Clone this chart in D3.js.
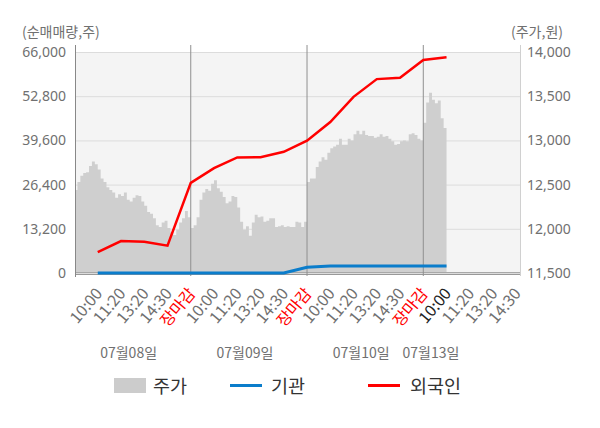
<!DOCTYPE html>
<html>
<head>
<meta charset="utf-8">
<script src="https://cdn.jsdelivr.net/npm/d3@7"></script>
<style>
body { margin: 0; background: #fff; }
svg { display: block; font-family: "Noto Sans CJK KR", "Noto Sans", sans-serif; }
</style>
</head>
<body>
<svg id="chart"></svg>
<script>
// x axis labels, one per slot
const tickLabels = ["10:00", "11:20", "13:20", "14:30", "장마감",
                    "10:00", "11:20", "13:20", "14:30", "장마감",
                    "10:00", "11:20", "13:20", "14:30", "장마감",
                    "10:00", "11:20", "13:20", "14:30"];
const dayLabels = ["07월08일", "07월09일", "07월10일", "07월13일"];

// net buying (shares), one value per slot up to now
const foreignNet = [6200, 9550, 9350, 8150, 26900, 31300, 34500, 34600, 36200, 39500,
                    45100, 52600, 57900, 58300, 63600, 64400];
const instNet = [0, 0, 0, 0, 0, 0, 0, 0, 0, 1700, 2100, 2100, 2100, 2100, 2100, 2100];

// price (won), evenly spaced through each session
const priceDay1 = [12440, 12530, 12600, 12630, 12640, 12710, 12760, 12730, 12670, 12570,
                   12530, 12470, 12440, 12410, 12350, 12390, 12370, 12410, 12330, 12310,
                   12350, 12380, 12370, 12310, 12260, 12190, 12170, 12120, 12040, 12020,
                   12070, 12090, 12010, 11960, 11930, 11990, 12070, 12120, 12200, 12130];
const priceDay2 = [12010, 12040, 12130, 12330, 12410, 12450, 12430, 12510, 12550, 12460,
                   12420, 12360, 12290, 12310, 12370, 12360, 12240, 12080, 11990, 12030,
                   11920, 12070, 12160, 12130, 12140, 12080, 12090, 12120, 12120, 12020,
                   12030, 12040, 12020, 12030, 12020, 12020, 12080, 12070, 12020, 12080];
const priceDay3 = [12530, 12570, 12570, 12700, 12760, 12810, 12780, 12860, 12910, 12930,
                   12950, 13020, 12950, 12950, 13020, 13000, 13070, 13110, 13070, 13110,
                   13060, 13050, 13050, 13030, 13040, 13070, 13040, 13050, 13020, 12990,
                   12950, 12960, 12990, 13000, 12990, 13070, 13080, 13060, 13020, 13000];
const priceDay4 = [13200, 13430, 13540, 13460, 13420, 13450, 13250, 13140];

const leftTicks = [0, 13200, 26400, 39600, 52800, 66000];
const rightTicks = [11500, 12000, 12500, 13000, 13500, 14000];

const width = 600, height = 428;
const plot = {left: 76, right: 520, top: 52, bottom: 273};
const slotsPerDay = 5, samplesPerDay = 40;
const labelGray = "#707070";

const svg = d3.select("#chart")
    .attr("width", width)
    .attr("height", height);

const xScale = d3.scaleLinear()
    .domain([0, tickLabels.length])
    .range([74.5, 516.3]);
const yLeft = d3.scaleLinear()
    .domain([leftTicks[0], leftTicks[leftTicks.length - 1]])
    .range([plot.bottom, plot.top]);
const yRight = d3.scaleLinear()
    .domain([rightTicks[0], rightTicks[rightTicks.length - 1]])
    .range([plot.bottom, plot.top]);

svg.append("defs").append("clipPath")
    .attr("id", "plotClip")
    .append("rect")
    .attr("x", plot.left)
    .attr("y", plot.top)
    .attr("width", plot.right - plot.left)
    .attr("height", plot.bottom - plot.top);

svg.append("rect")
    .attr("x", plot.left)
    .attr("y", plot.top)
    .attr("width", plot.right - plot.left)
    .attr("height", plot.bottom - plot.top)
    .attr("fill", "#f4f4f4");

// horizontal grid
let grid = svg.append("g")
    .attr("transform", `translate(${plot.left}, 0)`)
    .call(d3.axisLeft(yLeft).tickValues(leftTicks).tickSize(-(plot.right - plot.left)).tickFormat(""));
grid.select(".domain").remove();
grid.selectAll("line").attr("stroke", "#dcdcdc");

// price area
let pricePts = [];
[priceDay1, priceDay2, priceDay3, priceDay4].forEach((arr, d) => {
    arr.forEach((p, j) => pricePts.push({k: d * slotsPerDay + j * slotsPerDay / samplesPerDay, p: p}));
});
const lastPt = pricePts[pricePts.length - 1];
pricePts.push({k: lastPt.k + slotsPerDay / samplesPerDay, p: lastPt.p});

svg.append("path")
    .datum(pricePts)
    .attr("clip-path", "url(#plotClip)")
    .attr("fill", "#cfcfcf")
    .attr("d", d3.area()
        .curve(d3.curveStepAfter)
        .x(d => xScale(d.k))
        .y0(plot.bottom)
        .y1(d => yRight(d.p)));

// bottom lines
svg.append("line")
    .attr("x1", plot.left).attr("x2", plot.right)
    .attr("y1", plot.bottom - 0.5).attr("y2", plot.bottom - 0.5)
    .attr("stroke", "#a8a8a8");
svg.append("line")
    .attr("x1", plot.left).attr("x2", plot.right)
    .attr("y1", plot.bottom + 1.5).attr("y2", plot.bottom + 1.5)
    .attr("stroke", "#999");

// day dividers at close
tickLabels.forEach((t, i) => {
    if (t !== "장마감") return;
    svg.append("line")
        .attr("x1", xScale(i + 1)).attr("x2", xScale(i + 1))
        .attr("y1", 45).attr("y2", 276)
        .attr("stroke", "#8f8f8f");
});

// side axes lines
svg.append("line")
    .attr("x1", plot.left - 0.5).attr("x2", plot.left - 0.5)
    .attr("y1", 45).attr("y2", 277)
    .attr("stroke", "#888");
svg.append("line")
    .attr("x1", plot.right + 0.5).attr("x2", plot.right + 0.5)
    .attr("y1", 45).attr("y2", 276)
    .attr("stroke", "#d0d0d0");

// net buying lines
const netLine = d3.line()
    .x((d, i) => xScale(i + 1))
    .y(d => yLeft(d));

svg.append("path")
    .datum(instNet)
    .attr("fill", "none")
    .attr("stroke", "#0b7dcb")
    .attr("stroke-width", 3)
    .attr("d", netLine);

svg.append("path")
    .datum(foreignNet)
    .attr("fill", "none")
    .attr("stroke", "#ff0000")
    .attr("stroke-width", 2.5)
    .attr("d", netLine);

// y axes labels
let leftAxis = svg.append("g")
    .attr("transform", `translate(${plot.left}, 0)`)
    .call(d3.axisLeft(yLeft).tickValues(leftTicks).tickFormat(d3.format(",")).tickSize(0).tickPadding(10));
leftAxis.select(".domain").remove();
leftAxis.selectAll("text")
    .attr("font-family", "Noto Sans, sans-serif")
    .attr("font-size", 14)
    .attr("fill", labelGray);

let rightAxis = svg.append("g")
    .attr("transform", `translate(${plot.right}, 0)`)
    .call(d3.axisRight(yRight).tickValues(rightTicks).tickFormat(d3.format(",")).tickSize(0).tickPadding(7));
rightAxis.select(".domain").remove();
rightAxis.selectAll("text")
    .attr("font-family", "Noto Sans, sans-serif")
    .attr("font-size", 14)
    .attr("fill", labelGray);

svg.append("text")
    .attr("x", 22).attr("y", 37)
    .attr("font-size", 14)
    .attr("fill", labelGray)
    .text("(순매매량,주)");
svg.append("text")
    .attr("x", 563).attr("y", 37)
    .attr("text-anchor", "end")
    .attr("font-size", 14)
    .attr("fill", labelGray)
    .text("(주가,원)");

// x tick labels
const nowIndex = foreignNet.length - 1;
svg.append("g")
    .selectAll("text")
    .data(tickLabels)
    .join("text")
    .attr("transform", (d, i) => `translate(${xScale(i + 1) + 5.5}, 294) rotate(-50)`)
    .attr("text-anchor", "end")
    .attr("font-size", 16)
    .attr("fill", (d, i) => d === "장마감" ? "#ff0000" : (i === nowIndex ? "#222" : labelGray))
    .text(d => d);

// day labels
svg.append("g")
    .selectAll("text")
    .data(dayLabels)
    .join("text")
    .attr("x", (d, i) => {
        let start = i * slotsPerDay;
        let end = Math.min(start + slotsPerDay, nowIndex + 1);
        return xScale((start + end) / 2) - 4;
    })
    .attr("y", 358)
    .attr("text-anchor", "middle")
    .attr("font-size", 14)
    .attr("fill", labelGray)
    .text(d => d);

// legend
const legend = svg.append("g").attr("font-size", 18.5).attr("fill", "#333");
legend.append("rect")
    .attr("x", 114).attr("y", 378).attr("width", 32).attr("height", 15)
    .attr("fill", "#cccccc");
legend.append("text").attr("x", 153).attr("y", 393).text("주가");
legend.append("line")
    .attr("x1", 230).attr("x2", 262).attr("y1", 385.5).attr("y2", 385.5)
    .attr("stroke", "#0b7dcb").attr("stroke-width", 3);
legend.append("text").attr("x", 271).attr("y", 393).text("기관");
legend.append("line")
    .attr("x1", 368).attr("x2", 400).attr("y1", 385.5).attr("y2", 385.5)
    .attr("stroke", "#ff0000").attr("stroke-width", 3);
legend.append("text").attr("x", 410).attr("y", 393).text("외국인");
</script>
</body>
</html>
